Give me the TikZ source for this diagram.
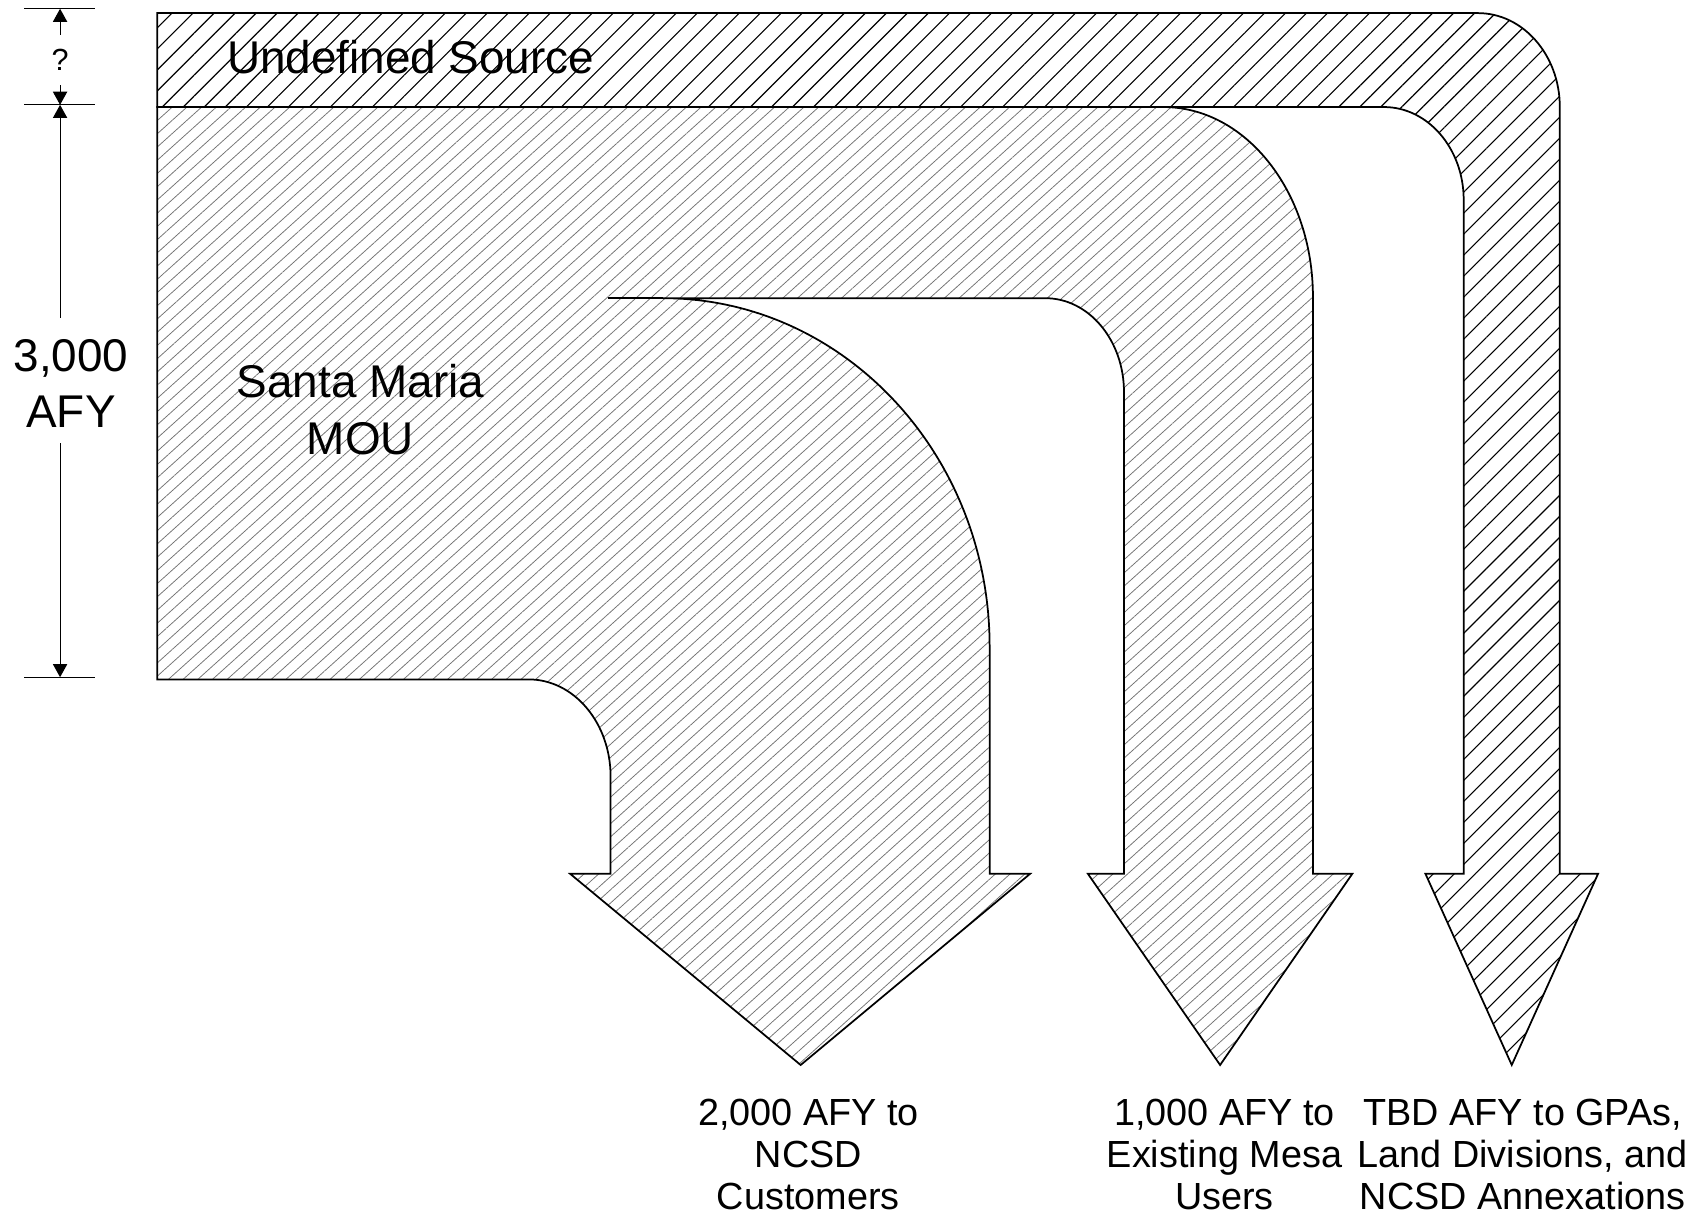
\documentclass[tikz,border=0pt]{standalone}
\usepackage{fontspec}
\setmainfont{Liberation Sans}
\usetikzlibrary{patterns.meta,arrows.meta}
\newcommand\bigtxt{\fontsize{21pt}{25pt}\selectfont}
\newcommand\lbltxt{\fontsize{17.3pt}{19pt}\selectfont}
\newcommand\qtxt{\fontsize{14pt}{16pt}\selectfont}
\begin{document}
\begin{tikzpicture}[x=0.5pt,y=-0.5pt,
  outline/.style={draw=black,line width=0.8pt,line join=miter},
  bandfill/.style={pattern={Lines[angle=45,distance=6.8pt,line width=0.5pt]},pattern color=black},
  smfill/.style={pattern={Lines[angle=42,distance=4.5pt,line width=0.35pt]},pattern color=black!55},
  dimline/.style={line width=0.5pt,-{Triangle[length=6pt,width=6.5pt]}},
  tickline/.style={line width=0.5pt},
  bigtext/.style={font=\bigtxt,anchor=base,inner sep=0pt},
  lbltext/.style={font=\lbltxt,anchor=base,inner sep=0pt},
]
\useasboundingbox (0,0) rectangle (1560,1112);

% Undefined source band turning into the TBD arrow
\path[bandfill,outline] (144,12) -- (1353,12) .. controls (1394.4,12) and (1428,50.5) .. (1428,98)
  -- (1428,800) -- (1463,800) -- (1384,975) -- (1305,800) -- (1340,800) -- (1340,183)
  .. controls (1340,136.1) and (1307.3,98) .. (1267,98) -- (144,98) -- cycle;

% Santa Maria MOU flow splitting into two arrows
\path[smfill,outline] (144,98) -- (1065,98) .. controls (1140.7,98) and (1202,175.9) .. (1202,272)
  -- (1202,800) -- (1238,800) -- (1117,975) -- (996,800) -- (1029,800) -- (1029,359)
  .. controls (1029,311.5) and (996.8,273) .. (957,273) -- (607,273)
  .. controls (772.1,273) and (906,415.8) .. (906,592)
  -- (906,800) -- (943,800) -- (733,975) -- (522,800) -- (559,800) -- (559,711)
  .. controls (559,661.8) and (525.4,622) .. (484,622) -- (144,622) -- cycle;
\draw[outline] (557,273) -- (607,273);

% dimension marks
\coordinate (tA) at (55,8);
\coordinate (tB) at (55,96);
\coordinate (tC) at (55,620);
\coordinate (gq1) at (55,32);
\coordinate (gq2) at (55,78);
\coordinate (g1) at (55,291);
\coordinate (g2) at (55,406);
\draw[tickline] (22,8) -- (87,8);
\draw[tickline] (22,96) -- (87,96);
\draw[tickline] (22,620) -- (87,620);
\draw[dimline] (gq1) -- (tA);
\draw[dimline] (gq2) -- (tB);
\draw[dimline] (g1) -- (tB);
\draw[dimline] (g2) -- (tC);
\node[font=\qtxt,inner sep=0pt] (q) at (55,55) {?};
\node[bigtext] (t3000) at (65,340) {3,000};
\node[bigtext] (tafy) at (65,391) {AFY};

% texts
\node[bigtext] (und) at (376,67) {Undefined Source};
\node[bigtext] (sm1) at (330,364) {Santa Maria};
\node[bigtext] (sm2) at (330,416) {MOU};

\node[lbltext] (a1) at (740,1030) {2,000 AFY to};
\node[lbltext] (a2) at (740,1069) {NCSD};
\node[lbltext] (a3) at (740,1107) {Customers};
\node[lbltext] (b1) at (1121,1030) {1,000 AFY to};
\node[lbltext] (b2) at (1121,1069) {Existing Mesa};
\node[lbltext] (b3) at (1121,1107) {Users};
\node[lbltext] (c1) at (1394,1030) {TBD AFY to GPAs,};
\node[lbltext] (c2) at (1394,1069) {Land Divisions, and};
\node[lbltext] (c3) at (1394,1107) {NCSD Annexations};
\end{tikzpicture}
\end{document}
